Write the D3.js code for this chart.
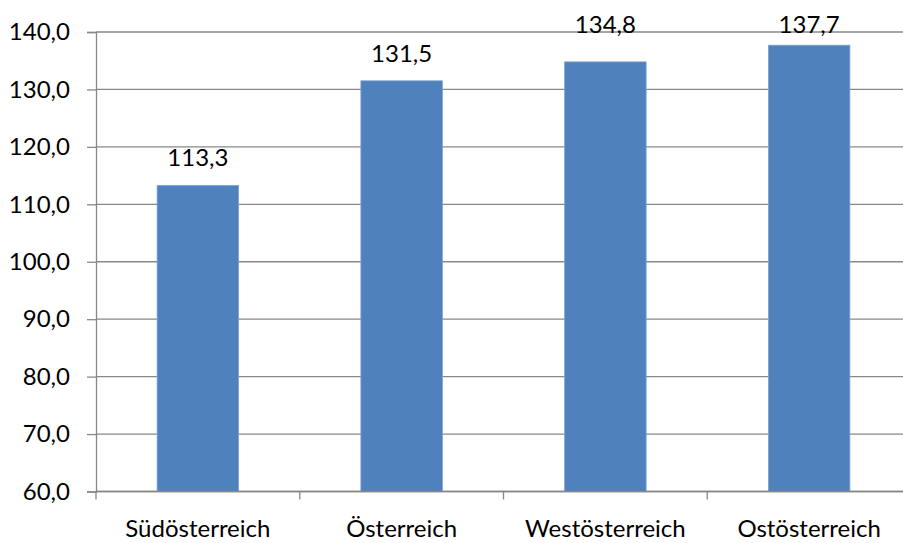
<!DOCTYPE html>
<html>
<head>
<meta charset="utf-8">
<script src="https://cdn.jsdelivr.net/npm/d3@7"></script>
<style>
  body { margin: 0; background: #fff; }
  svg text { font-family: Lato, "Liberation Sans", sans-serif; fill: #000; }
</style>
</head>
<body>
<div id="chart"></div>
<script>
// data
const regions = ["Südösterreich", "Österreich", "Westösterreich", "Ostösterreich"];
const values = [113.3, 131.5, 134.8, 137.7];
const yTicks = [60, 70, 80, 90, 100, 110, 120, 130, 140];

const W = 903, H = 543;
const plot = { left: 96, right: 911, top: 32, bottom: 491.5 };
const fontSize = 24;

const de = d3.formatLocale({ decimal: ",", thousands: ".", grouping: [3], currency: ["", "€"] });
const fmt = de.format(".1f");

const svg = d3.select("#chart").append("svg")
    .attr("width", W)
    .attr("height", H);

const x = d3.scaleBand()
    .domain(regions)
    .range([plot.left, plot.right])
    .paddingInner(0.6)
    .paddingOuter(0.3);

const y = d3.scaleLinear()
    .domain([60, 140])
    .range([plot.bottom, plot.top]);

// horizontal gridlines
svg.append("g")
    .selectAll("line")
    .data(yTicks)
    .enter()
    .append("line")
    .attr("x1", plot.left)
    .attr("x2", plot.right)
    .attr("y1", d => y(d))
    .attr("y2", d => y(d))
    .attr("stroke", "#888")
    .attr("stroke-width", 1.3);

// y axis
const yAxis = svg.append("g")
    .attr("transform", `translate(${plot.left},0)`)
    .call(d3.axisLeft(y).tickValues(yTicks).tickFormat(fmt).tickSize(9).tickPadding(17));
yAxis.select(".domain").attr("stroke", "#888").attr("stroke-width", 1.3);
yAxis.selectAll(".tick line").attr("stroke", "#888").attr("stroke-width", 1.3);
yAxis.selectAll(".tick text")
    .style("font-size", fontSize + "px")
    .attr("fill", "#000");

// bars
svg.append("g")
    .selectAll("rect")
    .data(values)
    .enter()
    .append("rect")
    .attr("x", (d, i) => x(regions[i]))
    .attr("y", d => y(d))
    .attr("width", x.bandwidth())
    .attr("height", d => y(60) - y(d))
    .attr("fill", "#4f81bd")
    .attr("stroke", "#7ea3d3")
    .attr("stroke-width", 0.8);

// x axis line + ticks between categories
svg.append("line")
    .attr("x1", plot.left).attr("x2", plot.right)
    .attr("y1", plot.bottom).attr("y2", plot.bottom)
    .attr("stroke", "#888").attr("stroke-width", 1.3);

const step = x.step();
const xTickPos = d3.range(regions.length + 1).map(i => plot.left + i * step);
svg.append("g")
    .selectAll("line")
    .data(xTickPos)
    .enter()
    .append("line")
    .attr("x1", d => d).attr("x2", d => d)
    .attr("y1", plot.bottom).attr("y2", plot.bottom + 8)
    .attr("stroke", "#888").attr("stroke-width", 1.3);

// category labels
svg.append("g")
    .selectAll("text")
    .data(regions)
    .enter()
    .append("text")
    .attr("x", d => x(d) + x.bandwidth() / 2)
    .attr("y", 537)
    .attr("text-anchor", "middle")
    .style("font-size", fontSize + "px")
    .text(d => d);

// value labels, pushed down to the plot top when they would overflow it
const capH = 15;
svg.append("g")
    .selectAll("text")
    .data(values)
    .enter()
    .append("text")
    .attr("x", (d, i) => x(regions[i]) + x.bandwidth() / 2)
    .attr("y", d => {
        const base = y(d) - 19;
        return base - capH < plot.top ? plot.top + 0.7 : base;
    })
    .attr("text-anchor", "middle")
    .style("font-size", fontSize + "px")
    .text(d => fmt(d));
</script>
</body>
</html>
